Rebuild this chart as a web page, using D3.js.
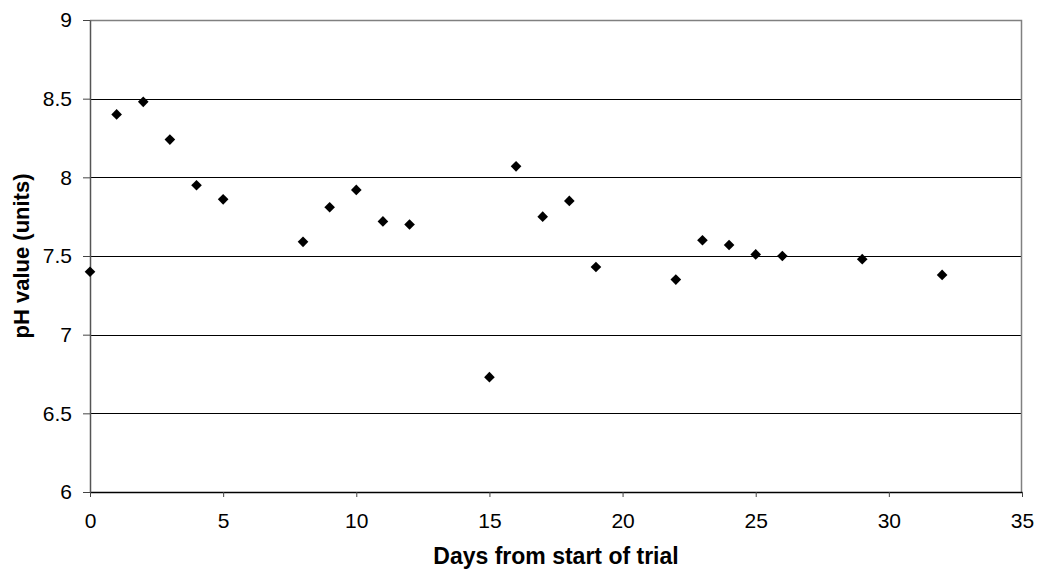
<!DOCTYPE html>
<html>
<head>
<meta charset="utf-8">
<script src="https://d3js.org/d3.v7.min.js"></script>
<style>
  body { margin: 0; background: #fff; }
  svg text { font-family: "Liberation Sans", Arial, sans-serif; }
</style>
</head>
<body>
<div id="chart"></div>
<script>
// days from start and measured pH
var days = [0, 1, 2, 3, 4, 5, 8, 9, 10, 11, 12, 15, 16, 17, 18, 19, 22, 23, 24, 25, 26, 29, 32];
var ph = [7.40, 8.40, 8.48, 8.24, 7.95, 7.86, 7.59, 7.81, 7.92, 7.72, 7.70, 6.73, 8.07, 7.75, 7.85, 7.43, 7.35, 7.60, 7.57, 7.51, 7.50, 7.48, 7.38];
var xTicks = [0, 5, 10, 15, 20, 25, 30, 35];
var yTicks = [6, 6.5, 7, 7.5, 8, 8.5, 9];

var margin = {top: 20, right: 19, bottom: 80, left: 90},
  width = 1041 - margin.left - margin.right,
  height = 572 - margin.top - margin.bottom;

var svg = d3.select("#chart")
  .append("svg")
    .attr("width", 1041)
    .attr("height", 572)
  .append("g")
    .attr("transform", "translate(" + margin.left + "," + margin.top + ")");

var x = d3.scaleLinear().domain([0, 35]).range([0, width]);
var y = d3.scaleLinear().domain([6, 9]).range([height, 0]);

// horizontal gridlines
svg.selectAll(".grid")
  .data(yTicks.slice(1, -1))
  .enter()
  .append("line")
    .attr("x1", 0)
    .attr("x2", width)
    .attr("y1", function(d) { return Math.round(y(d)) + 0.5; })
    .attr("y2", function(d) { return Math.round(y(d)) + 0.5; })
    .style("stroke", "#000")
    .style("stroke-width", 1);

// top and right border
svg.append("path")
  .attr("d", "M0,0.5H" + (width - 0.5) + "V" + height)
  .style("fill", "none")
  .style("stroke", "#808080")
  .style("stroke-width", 1.5);

// axes
var fmt = function(d) { return String(d); };
var xAxis = svg.append("g")
  .attr("transform", "translate(0," + height + ")")
  .call(d3.axisBottom(x).tickValues(xTicks).tickFormat(fmt).tickSize(5).tickPadding(16).tickSizeOuter(0));
var yAxis = svg.append("g")
  .call(d3.axisLeft(y).tickValues(yTicks).tickFormat(fmt).tickSize(7).tickPadding(11).tickSizeOuter(0));

xAxis.select(".domain").style("stroke", "#000").style("stroke-width", 1.5);
yAxis.select(".domain").style("stroke", "#555").style("stroke-width", 1.5);
svg.selectAll(".tick line").style("stroke", "#444");
svg.selectAll(".tick text")
  .style("font-size", "21px")
  .style("fill", "#000")
  .style("font-family", "Liberation Sans, Arial, sans-serif");

// points
svg.selectAll(".pt")
  .data(days)
  .enter()
  .append("path")
    .attr("d", d3.symbol().type(d3.symbolDiamond2).size(72))
    .attr("transform", function(d, i) { return "translate(" + x(d) + "," + y(ph[i]) + ")"; })
    .style("fill", "#000");

// axis titles
svg.append("text")
  .attr("x", width / 2)
  .attr("y", height + 72)
  .attr("text-anchor", "middle")
  .style("font-size", "23px")
  .style("font-weight", "bold")
  .text("Days from start of trial");

svg.append("text")
  .attr("transform", "translate(" + (-61) + "," + (height / 2) + ") rotate(-90)")
  .attr("text-anchor", "middle")
  .style("font-size", "22px")
  .style("font-weight", "bold")
  .text("pH value (units)");
</script>
</body>
</html>
